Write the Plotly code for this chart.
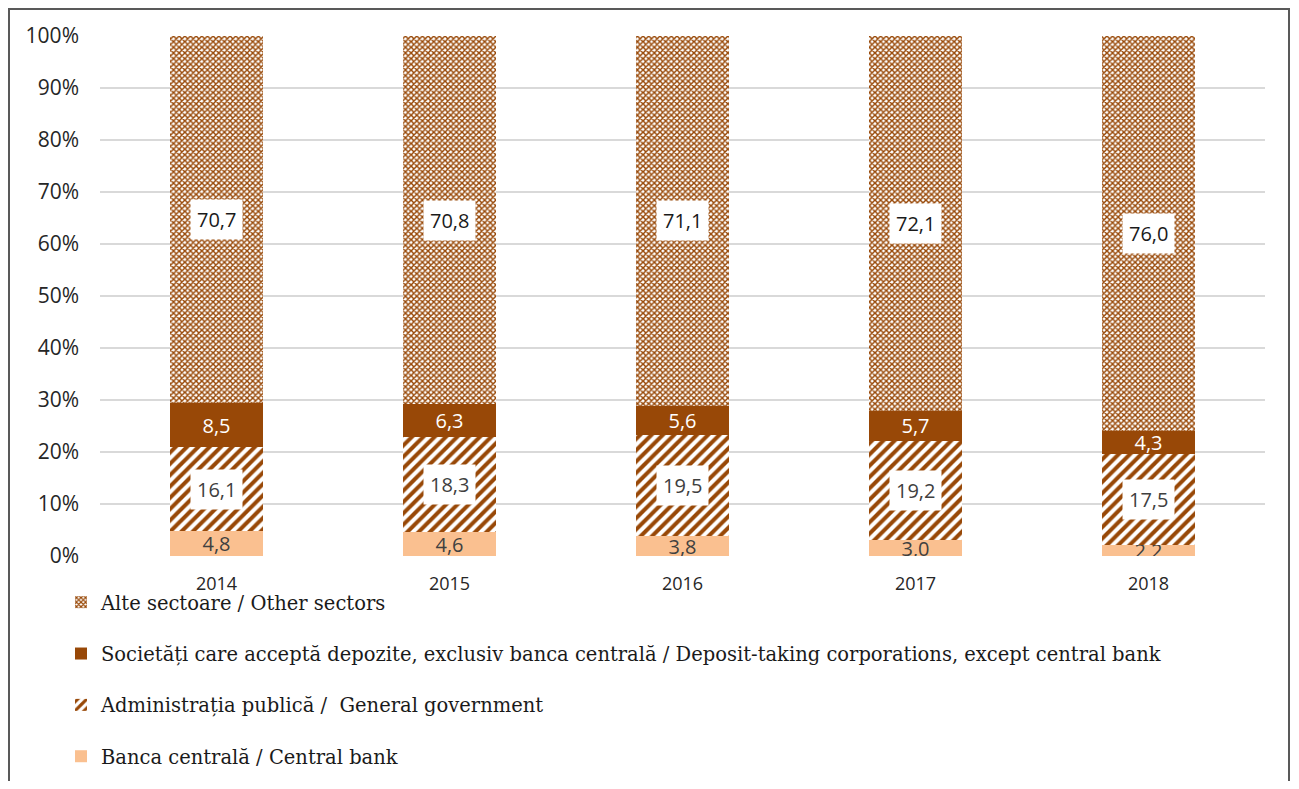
import plotly.graph_objects as go

years = ["2014", "2015", "2016", "2017", "2018"]
banca = [4.8, 4.6, 3.8, 3.0, 2.2]
admin = [16.1, 18.3, 19.5, 19.2, 17.5]
societati = [8.5, 6.3, 5.6, 5.7, 4.3]
alte = [70.7, 70.8, 71.1, 72.1, 76.0]

names = {
    "banca": "Banca centrală / Central bank",
    "admin": "Administrația publică /  General government",
    "soc": "Societăți care acceptă depozite, exclusiv banca centrală / Deposit-taking corporations, except central bank",
    "alte": "Alte sectoare / Other sectors",
}

BROWN = "#984807"
PEACH = "#FAC090"
SANS = "Open Sans"
SERIF = "DejaVu Serif"

def fmt(v):
    return f"{v:.1f}".replace(".", ",")

fig = go.Figure()
bw = 0.4
fig.add_trace(go.Bar(x=years, y=banca, name=names["banca"], legendgroup="a", legendrank=4,
                     marker=dict(color=PEACH, line=dict(width=0)), width=bw,
                     text=[fmt(v) for v in banca], textposition="inside", insidetextanchor="middle",
                     textfont=dict(family=SANS, size=20, color="#404040"), constraintext="none"))
fig.add_trace(go.Bar(x=years, y=admin, name=names["admin"], legendgroup="b", legendrank=3,
                     marker=dict(color="white", line=dict(width=0),
                                 pattern=dict(shape="/", fgcolor=BROWN, bgcolor="white", size=8, solidity=0.5, fillmode="replace")),
                     width=bw))
fig.add_trace(go.Bar(x=years, y=societati, name=names["soc"], legendgroup="c", legendrank=2,
                     marker=dict(color=BROWN, line=dict(width=0)), width=bw,
                     text=[fmt(v) for v in societati], textposition="inside", insidetextanchor="middle",
                     textfont=dict(family=SANS, size=20, color="white"), constraintext="none"))
fig.add_trace(go.Bar(x=years, y=alte, name=names["alte"], legendgroup="d", legendrank=1,
                     marker=dict(color="white", line=dict(width=0),
                                 pattern=dict(shape="x", fgcolor=BROWN, bgcolor="white", size=4, solidity=0.6, fillmode="replace")),
                     width=bw))

# boxed labels for patterned segments (category index as x)
for i, yr in enumerate(years):
    base_admin = banca[i] + admin[i] / 2
    base_alte = banca[i] + admin[i] + societati[i] + alte[i] / 2
    for yv, val, col in ((base_admin, admin[i], "#404040"), (base_alte, alte[i], "#1a1a1a")):
        fig.add_annotation(x=i, y=yv, xref="x", yref="y", text=fmt(val), showarrow=False,
                           font=dict(family=SANS, size=20, color=col),
                           bgcolor="white", borderpad=6)

# page offset of 8px (body margin): plot area spans page x 100..1265, y 36..556
PW, PH = 1165, 520
fig.add_shape(type="rect", xref="paper", yref="paper",
              x0=(9 - 100) / PW, x1=(1289 - 100) / PW,
              y0=-0.6, y1=(556 - 9) / PH,
              line=dict(color="#595959", width=2), fillcolor="rgba(0,0,0,0)", layer="below")

fig.update_layout(
    barmode="stack",
    width=1283, height=773,
    margin=dict(l=92, r=26, t=28, b=225, autoexpand=False),
    paper_bgcolor="white", plot_bgcolor="white",
    showlegend=True,
    legend=dict(x=(61 - 100) / PW, xanchor="left", y=(556 - 583) / PH, yanchor="top",
                orientation="v", traceorder="grouped", tracegroupgap=23,
                font=dict(family=SERIF, size=19.5, color="#1a1a1a"), itemwidth=30,
                bgcolor="rgba(0,0,0,0)"),
    xaxis=dict(type="category", range=[-0.5, len(years) - 0.5],
               tickfont=dict(family=SANS, size=18, color="#262626"), showgrid=False,
               showline=False, ticks="", ticklabelstandoff=15),
    yaxis=dict(range=[0, 100], tickvals=list(range(0, 101, 10)),
               ticktext=[f"{v}%" for v in range(0, 101, 10)],
               tickfont=dict(family=SANS, size=21, color="#262626"),
               gridcolor="#D9D9D9", gridwidth=1.5, zeroline=False, showline=False,
               ticks="", ticklabelstandoff=20),
)

fig.write_html("out.html")
